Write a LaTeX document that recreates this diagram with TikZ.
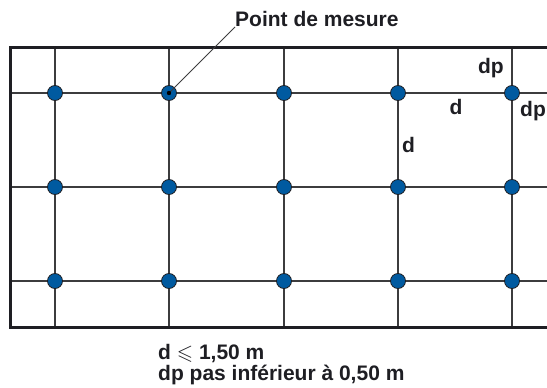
\documentclass[tikz,border=0pt]{standalone}
\usepackage{fontspec}
\usepackage{amssymb}
\setmainfont{Liberation Sans}
\usepackage{tikz}
\usetikzlibrary{positioning}
\definecolor{myblue}{RGB}{0,90,160}
\definecolor{mydark}{RGB}{30,30,35}
\definecolor{mygrid}{RGB}{60,60,62}
\tikzset{
  mpoint/.style={circle, draw=mydark, fill=myblue, minimum size=15pt,
    inner sep=0pt, line width=0.8pt},
  gridline/.style={line width=1.4pt, color=mygrid},
  frameline/.style={line width=3pt, color=mydark},
  leader/.style={line width=0.8pt, color=mygrid},
  lbl/.style={font=\fontsize{21}{22}\selectfont\bfseries, inner sep=0pt,
    text=mydark}
}

\begin{document}
\begin{tikzpicture}[x=1pt, y=-1pt]
  \useasboundingbox (0,0) rectangle (547,388);

  % Grid lines
  \foreach \x [count=\i] in {55,169,284,398,512} {
    \coordinate (top\i) at (\x,47);
    \coordinate (bot\i) at (\x,327);
    \draw[gridline] (top\i) -- (bot\i);
  }
  \foreach \y [count=\j] in {93,187,281} {
    \coordinate (lft\j) at (10,\y);
    \coordinate (rgt\j) at (547,\y);
    \draw[gridline] (lft\j) -- (rgt\j);
  }

  % Frame
  \draw[frameline] (547,47) -- (10,47) -- (10,327) -- (547,327);

  % Measurement points
  \foreach \x [count=\i] in {55,169,284,398,512}
    \foreach \y [count=\j] in {93,187,281}
      \node[mpoint] (p\i\j) at (\x,\y) {};

  % Marked point
  \node[lbl, anchor=base west] (mesure) at (235,27) {Point de mesure};
  \draw[leader] (mesure.base west) -- (p21.center);
  \fill[black] (p21.center) circle (2.2pt);

  % Distances
  \node[lbl, anchor=east] (dptop) at (504,68) {dp};
  \node[lbl] (dhor) at (456,107) {d};
  \node[lbl, anchor=west] (dpright) at (520,111) {dp};
  \node[lbl, anchor=west] (dvert) at (402,145) {d};

  % Conditions
  \node[lbl, anchor=base west] (cond1) at (158,359) {d $\leqslant$ 1,50 m};
  \node[lbl, anchor=base west] (cond2) at (158,380) {dp pas inférieur à 0,50 m};
\end{tikzpicture}
\end{document}
